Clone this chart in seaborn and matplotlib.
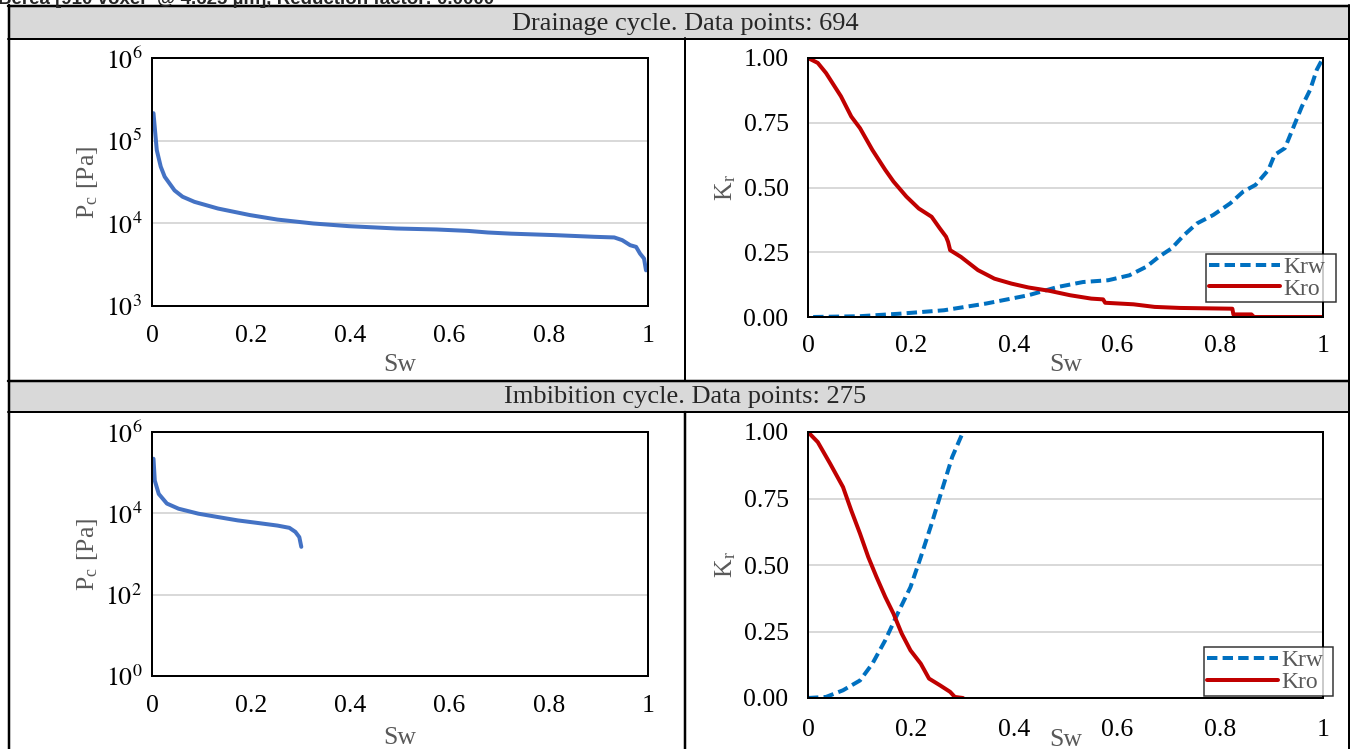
import numpy as np
import pandas as pd
import seaborn as sns
import matplotlib
matplotlib.use("Agg")
import matplotlib.pyplot as plt
from matplotlib.patches import Rectangle
from matplotlib.lines import Line2D
from matplotlib.ticker import FixedLocator, FixedFormatter, NullLocator

# ---------------- data ----------------
title_text = "Berea [910 voxel\u00b3 @ 4.625 \u00b5m], Reduction factor: 0.0000"
drain_header = "Drainage cycle. Data points: 694"
imb_header = "Imbibition cycle. Data points: 275"

# Drainage capillary pressure
drain_pc_sw = [0.003, 0.0096, 0.0176, 0.0256, 0.0455, 0.0615, 0.0855, 0.133, 0.197,
               0.253, 0.325, 0.397, 0.493, 0.573, 0.637, 0.677, 0.724, 0.812, 0.892,
               0.932, 0.948, 0.964, 0.976, 0.984, 0.992, 0.996]
drain_pc = [2.15e5, 7.7e4, 4.85e4, 3.66e4, 2.5e4, 2.1e4, 1.82e4, 1.51e4, 1.26e4,
            1.11e4, 9.96e3, 9.24e3, 8.66e3, 8.43e3, 8.1e3, 7.75e3, 7.5e3, 7.2e3, 6.87e3,
            6.75e3, 6.26e3, 5.44e3, 5.19e3, 4.3e3, 3.75e3, 2.7e3]

# Drainage relative permeability
drain_kro_sw = [0.0, 0.019, 0.035, 0.064, 0.084, 0.101, 0.125, 0.150, 0.166, 0.191,
                0.215, 0.240, 0.256, 0.268, 0.272, 0.276, 0.297, 0.330, 0.362, 0.395,
                0.428, 0.469, 0.509, 0.550, 0.573, 0.577, 0.632, 0.673, 0.722, 0.824,
                0.826, 0.861, 0.866, 1.0]
drain_kro = [1.0, 0.981, 0.942, 0.852, 0.774, 0.729, 0.645, 0.568, 0.523, 0.465,
             0.419, 0.387, 0.342, 0.310, 0.290, 0.258, 0.232, 0.181, 0.148, 0.129,
             0.114, 0.101, 0.084, 0.071, 0.068, 0.055, 0.049, 0.039, 0.035, 0.032,
             0.010, 0.010, 0.0, 0.0]
drain_krw_sw = [0.01, 0.10, 0.18, 0.264, 0.346, 0.428, 0.485, 0.534, 0.583, 0.624,
                0.657, 0.681, 0.706, 0.730, 0.755, 0.787, 0.820, 0.845, 0.869, 0.894,
                0.906, 0.926, 0.943, 0.959, 0.975, 0.988, 1.0]
drain_krw = [0.0, 0.003, 0.013, 0.026, 0.052, 0.084, 0.116, 0.135, 0.142, 0.161,
             0.194, 0.232, 0.265, 0.316, 0.361, 0.394, 0.439, 0.484, 0.510, 0.568,
             0.626, 0.652, 0.735, 0.813, 0.877, 0.955, 1.0]

# Imbibition capillary pressure
imb_pc_sw = [0.003, 0.0056, 0.0136, 0.030, 0.0535, 0.0935, 0.133, 0.173, 0.213,
             0.253, 0.277, 0.289, 0.297, 0.301]
imb_pc = [2.2e5, 6.4e4, 3.0e4, 1.74e4, 1.3e4, 9.8e3, 8.1e3, 6.7e3, 5.8e3,
          5.0e3, 4.4e3, 3.5e3, 2.6e3, 1.5e3]

# Imbibition relative permeability
imb_kro_sw = [0.0, 0.019, 0.043, 0.068, 0.084, 0.101, 0.117, 0.133, 0.150, 0.166,
              0.182, 0.199, 0.219, 0.235, 0.256, 0.276, 0.285, 0.301]
imb_kro = [1.0, 0.962, 0.881, 0.793, 0.705, 0.618, 0.530, 0.455, 0.380, 0.317,
           0.242, 0.179, 0.129, 0.073, 0.048, 0.023, 0.004, 0.0]
imb_krw_sw = [0.0, 0.035, 0.068, 0.101, 0.125, 0.150, 0.174, 0.199, 0.219, 0.240,
              0.260, 0.280, 0.301]
imb_krw = [0.0, 0.004, 0.029, 0.066, 0.129, 0.217, 0.317, 0.417, 0.530, 0.655,
           0.781, 0.906, 1.0]

x_ticks = [0, 0.2, 0.4, 0.6, 0.8, 1]
x_tick_labels = ["0", "0.2", "0.4", "0.6", "0.8", "1"]
kr_ticks = [0, 0.25, 0.5, 0.75, 1.0]
kr_tick_labels = ["0.00", "0.25", "0.50", "0.75", "1.00"]
drain_pc_ticks = [1e3, 1e4, 1e5, 1e6]
drain_pc_labels = ["$10^{3}$", "$10^{4}$", "$10^{5}$", "$10^{6}$"]
imb_pc_ticks = [1e0, 1e2, 1e4, 1e6]
imb_pc_labels = ["$10^{0}$", "$10^{2}$", "$10^{4}$", "$10^{6}$"]

# ---------------- style ----------------
sns.set_style("white")
plt.rcParams["font.family"] = ["Liberation Serif", "DejaVu Serif"]
plt.rcParams["mathtext.fontset"] = "stix"

W, H = 1350, 749
fig = plt.figure(figsize=(W / 100, H / 100), dpi=100)

PX = 72 / 100  # points per pixel
PC_BLUE = "#4472C4"
KRW_BLUE = "#0070C0"
KRO_RED = "#C00000"
GRID = "#D9D9D9"
LABEL_GRAY = "#595959"
TICK_FS = 18.5
LINE_W = 4.0 * PX


def rect(l, t, r, b):
    return [l / W, 1 - b / H, (r - l) / W, (b - t) / H]


def hline(y, x0, x1, w=2):
    fig.add_artist(Line2D([x0 / W, x1 / W], [1 - y / H, 1 - y / H],
                          transform=fig.transFigure, color="black", lw=w * PX))


def vline(x, y0, y1, w=2):
    fig.add_artist(Line2D([x / W, x / W], [1 - y0 / H, 1 - y1 / H],
                          transform=fig.transFigure, color="black", lw=w * PX))


# table frame with grey header rows
for (t, b) in [(7, 38), (382, 411)]:
    fig.add_artist(Rectangle((9 / W, 1 - b / H), (W - 9) / W, (b - t) / H,
                             transform=fig.transFigure, facecolor="#D9D9D9",
                             edgecolor="none", zorder=0))
hline(6, 8, W, 2.5)
hline(38.5, 8, W, 2)
hline(381, 8, W, 2.5)
hline(412, 8, W, 2)
vline(9, 5, H, 2.5)
vline(685, 38, 381, 2)
vline(685, 412, H, 2.5)
vline(1349, 5, H, 2)

fig.text(685 / W, 1 - 24 / H, drain_header, ha="center", va="center", fontsize=19)
fig.text(685 / W, 1 - 397.5 / H, imb_header, ha="center", va="center", fontsize=19)
# report title runs off the top of the page
fig.text(-2 / W, 1 - 4.5 / H, title_text, ha="left", va="baseline", fontsize=13.5,
         fontweight="bold", family=["Liberation Sans", "DejaVu Sans"])


def style_axes(ax, xlabel_y, ylabel_x, xpad):
    ax.set_xlim(0, 1)
    ax.xaxis.set_major_locator(FixedLocator(x_ticks))
    ax.xaxis.set_major_formatter(FixedFormatter(x_tick_labels))
    ax.xaxis.set_minor_locator(NullLocator())
    ax.yaxis.set_minor_locator(NullLocator())
    ax.grid(False, axis="x")
    ax.grid(True, axis="y", color=GRID, lw=2 * PX)
    ax.set_axisbelow(True)
    for s in ax.spines.values():
        s.set_visible(True)
        s.set_color("black")
        s.set_linewidth(2 * PX)
    ax.tick_params(axis="both", length=0, labelsize=TICK_FS, colors="black")
    ax.tick_params(axis="x", pad=xpad)
    ax.set_xlabel("Sw", fontsize=TICK_FS, color=LABEL_GRAY)
    bb = ax.get_position()
    ax.xaxis.set_label_coords(0.5, (1 - xlabel_y / H - bb.y0) / bb.height)
    ax.yaxis.set_label_coords((ylabel_x / W - bb.x0) / bb.width, 0.5)


def pc_panel(pos, sw, pc, ticks, labels, ylim, xlabel_y, xpad):
    ax = fig.add_axes(rect(*pos))
    sns.lineplot(x=sw, y=pc, ax=ax, color=PC_BLUE, lw=LINE_W,
                 estimator=None, sort=False)
    ax.set_yscale("log")
    ax.set_ylim(*ylim)
    ax.yaxis.set_major_locator(FixedLocator(ticks))
    ax.yaxis.set_major_formatter(FixedFormatter(labels))
    ax.tick_params(axis="y", pad=7)
    ax.set_ylabel("P$_\\mathregular{c}$ [Pa]", fontsize=TICK_FS, color=LABEL_GRAY)
    style_axes(ax, xlabel_y, 100, xpad)
    return ax


def kr_panel(pos, krw_sw, krw, kro_sw, kro, legend_box, xlabel_y, xpad):
    ax = fig.add_axes(rect(*pos))
    sns.lineplot(x=krw_sw, y=krw, ax=ax, color=KRW_BLUE, lw=LINE_W,
                 linestyle=(0, (2.6, 1.3)), estimator=None, sort=False, label="Krw")
    sns.lineplot(x=kro_sw, y=kro, ax=ax, color=KRO_RED, lw=LINE_W,
                 estimator=None, sort=False, label="Kro")
    ax.set_ylim(0, 1)
    ax.yaxis.set_major_locator(FixedLocator(kr_ticks))
    ax.yaxis.set_major_formatter(FixedFormatter(kr_tick_labels))
    ax.tick_params(axis="y", pad=14)
    ax.set_ylabel("K$_\\mathregular{r}$", fontsize=TICK_FS, color=LABEL_GRAY)
    style_axes(ax, xlabel_y, 738, xpad)
    l, t, r, b = legend_box
    leg = ax.legend(loc="center",
                    bbox_to_anchor=(l / W, 1 - b / H, (r - l) / W, (b - t) / H),
                    bbox_transform=fig.transFigure, mode="expand",
                    frameon=True, fancybox=False, fontsize=17,
                    handlelength=3.0, handletextpad=0.15, borderpad=0.12,
                    labelspacing=0.0, borderaxespad=0)
    leg.get_frame().set_edgecolor("black")
    leg.get_frame().set_linewidth(1.5 * PX)
    for txt in leg.get_texts():
        txt.set_color(LABEL_GRAY)
    return ax


pc_panel((152, 58, 648, 306), drain_pc_sw, drain_pc, drain_pc_ticks,
         drain_pc_labels, (1e3, 1e6), 354, 14)
kr_panel((808, 58, 1323, 317), drain_krw_sw, drain_krw, drain_kro_sw, drain_kro,
         (1206, 257, 1336, 299), 354, 13)
pc_panel((152, 432, 648, 676), imb_pc_sw, imb_pc, imb_pc_ticks,
         imb_pc_labels, (1e0, 1e6), 727, 14)
kr_panel((808, 432, 1323, 698), imb_krw_sw, imb_krw, imb_kro_sw, imb_kro,
         (1204, 650, 1333, 693), 729, 15)

fig.savefig("out.png", dpi=100)
